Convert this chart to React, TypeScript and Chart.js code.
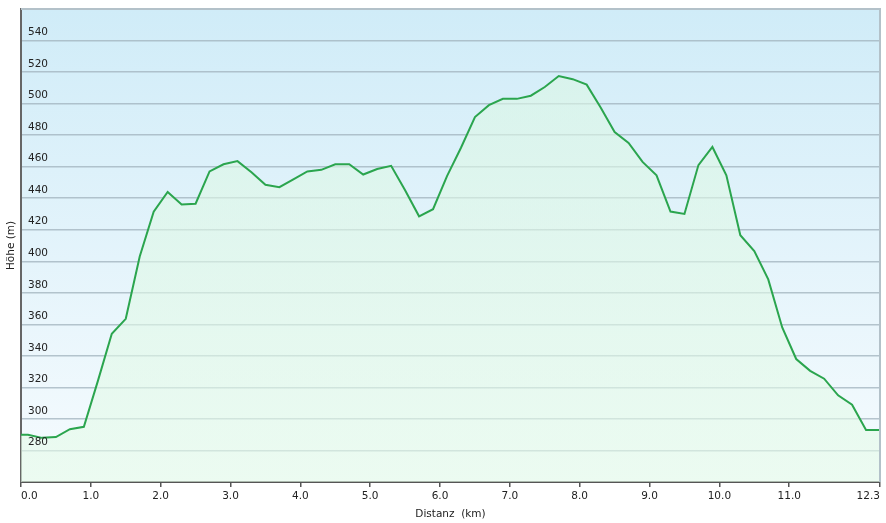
import React, { useEffect, useRef } from 'react';
import { Chart, registerables } from 'chart.js';

Chart.register(...registerables);

const distanceKm = [
  0, 0.1, 0.3, 0.5, 0.7, 0.9, 1.1, 1.3, 1.5, 1.7, 1.9, 2.1, 2.3, 2.5, 2.7, 2.9,
  3.1, 3.3, 3.5, 3.7, 3.9, 4.1, 4.3, 4.5, 4.7, 4.9, 5.1, 5.3, 5.5, 5.7, 5.9,
  6.1, 6.3, 6.5, 6.7, 6.9, 7.1, 7.3, 7.5, 7.7, 7.9, 8.1, 8.3, 8.5, 8.7, 8.9,
  9.1, 9.3, 9.5, 9.7, 9.9, 10.1, 10.3, 10.5, 10.7, 10.9, 11.1, 11.3, 11.5,
  11.7, 11.9, 12.1, 12.3,
];

const elevationM = [
  290, 290, 288, 288.5, 293.5, 295, 324, 354, 363.5, 403, 431.5, 444, 436, 436.5, 457, 461.5,
  463.5, 456.5, 448.5, 447, 452, 457, 458, 461.5, 461.5, 455, 458.5, 460.5, 445, 428.5, 433,
  454, 472, 491.5, 499, 503, 503, 505, 510.5, 517.5, 515.5, 512, 497.5, 482, 475, 463,
  454.5, 431.5, 430, 461, 472.5, 454.5, 416.5, 406.5, 388.5, 358, 338, 330.5, 325.5,
  315, 309, 293, 293,
];

const xTickValues = [0, 1, 2, 3, 4, 5, 6, 7, 8, 9, 10, 11, 12.3];
const yTickValues = [260, 280, 300, 320, 340, 360, 380, 400, 420, 440, 460, 480, 500, 520, 540, 560];
const yLabelledTicks = [280, 300, 320, 340, 360, 380, 400, 420, 440, 460, 480, 500, 520, 540];
const yMin = 260;
const yMax = 560;

const xTitle = 'Distanz  (km)';
const yTitle = 'Höhe (m)';

const plotFrame = {
  id: 'plotFrame',
  beforeDraw(chart: any) {
    const ca = chart.chartArea;
    if (!ca) return;
    const { ctx } = chart;
    const g = ctx.createLinearGradient(0, ca.top, 0, ca.bottom);
    g.addColorStop(0, '#d0ecf8');
    g.addColorStop(1, '#f6fbfe');
    ctx.save();
    ctx.fillStyle = g;
    ctx.fillRect(ca.left, ca.top, ca.right - ca.left, ca.bottom - ca.top);
    ctx.restore();
  },
  afterDraw(chart: any) {
    const ca = chart.chartArea;
    if (!ca) return;
    const { ctx } = chart;
    ctx.save();
    ctx.strokeStyle = '#b3c1c9';
    ctx.lineWidth = 2;
    ctx.beginPath();
    ctx.moveTo(ca.left, ca.top);
    ctx.lineTo(ca.right, ca.top);
    ctx.lineTo(ca.right, ca.bottom);
    ctx.stroke();
    ctx.restore();
  },
};

export default function App() {
  const canvasRef = useRef<HTMLCanvasElement | null>(null);

  useEffect(() => {
    const canvas = canvasRef.current;
    if (!canvas) return;
    Chart.defaults.font.family = '"DejaVu Sans", Verdana, sans-serif';
    Chart.defaults.font.size = 10.5;

    const chart = new Chart(canvas, {
      type: 'line',
      data: {
        datasets: [
          {
            data: distanceKm.map((x, i) => ({ x, y: elevationM[i] })),
            borderColor: '#2ba54e',
            borderWidth: 2,
            pointRadius: 0,
            tension: 0,
            fill: 'start',
            backgroundColor: (c: any) => {
              const ca = c.chart.chartArea;
              if (!ca) return 'rgba(218,246,228,0.6)';
              const g = c.chart.ctx.createLinearGradient(0, ca.top, 0, ca.bottom);
              g.addColorStop(0, 'rgba(218,246,228,0.6)');
              g.addColorStop(1, 'rgba(229,251,232,0.6)');
              return g;
            },
          },
        ],
      },
      options: {
        animation: false,
        responsive: false,
        maintainAspectRatio: false,
        layout: { padding: { top: 9, right: 6, bottom: 0, left: 0 } },
        plugins: {
          legend: { display: false },
          tooltip: { enabled: false },
        },
        scales: {
          x: {
            type: 'linear',
            min: 0,
            max: 12.3,
            afterFit: (s: any) => {
              s.height = 41;
              s.paddingLeft = 0;
              s.paddingRight = 0;
            },
            afterBuildTicks: (s: any) => {
              s.ticks = xTickValues.map((v) => ({ value: v }));
            },
            ticks: {
              align: 'inner',
              padding: 3,
              color: '#222',
              autoSkip: false,
              maxRotation: 0,
              callback: (v: any) => Number(v).toFixed(1),
            },
            grid: {
              drawOnChartArea: false,
              drawTicks: true,
              tickLength: 5,
              color: '#555',
              lineWidth: 1.5,
            },
            border: { color: '#555', width: 2 },
            title: {
              display: true,
              text: xTitle,
              color: '#222',
              padding: { top: 0, bottom: 2 },
            },
          },
          y: {
            type: 'linear',
            min: yMin,
            max: yMax,
            position: 'left',
            afterFit: (s: any) => {
              s.width = 21;
              s.paddingTop = 0;
              s.paddingBottom = 0;
            },
            afterBuildTicks: (s: any) => {
              s.ticks = yTickValues.map((v) => ({ value: v }));
            },
            ticks: {
              autoSkip: false,
              mirror: true,
              padding: 7,
              labelOffset: -8,
              color: '#222',
              z: 1,
              callback: (v: any) => (yLabelledTicks.includes(Number(v)) ? String(v) : ''),
            },
            grid: {
              color: 'rgba(160,178,188,0.75)',
              lineWidth: 1.5,
              drawTicks: false,
            },
            border: { color: '#666', width: 2 },
            title: {
              display: true,
              text: yTitle,
              color: '#222',
              padding: { top: 5, bottom: 0 },
            },
          },
        },
      },
      plugins: [plotFrame],
    });

    return () => {
      chart.destroy();
    };
  }, []);

  return (
    <div style={{ position: 'absolute', left: 0, top: 0, width: 886, height: 523, background: '#fff' }}>
      <canvas ref={canvasRef} width={886} height={523} style={{ width: 886, height: 523, display: 'block' }} />
    </div>
  );
}
